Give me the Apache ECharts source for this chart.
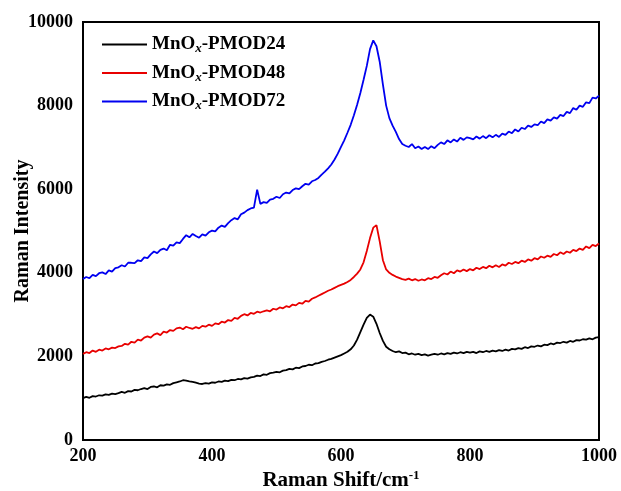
<!DOCTYPE html>
<html><head><meta charset="utf-8">
<script src="https://cdn.jsdelivr.net/npm/echarts@6/dist/echarts.min.js"></script>
<style>html,body{margin:0;padding:0;background:#fff}#c{width:621px;height:491px}</style>
</head><body><div id="c"></div>
<script>
const shift = [200,205,210,215,220,225,230,235,240,245,250,255,260,265,270,275,280,285,290,295,
300,305,310,315,320,325,330,335,340,345,350,355,360,365,370,375,380,385,390,395,
400,405,410,415,420,425,430,435,440,445,450,455,460,465,470,475,480,485,490,495,
500,505,510,515,520,525,530,535,540,545,550,555,560,565,570,575,580,585,590,595,
600,605,610,615,620,625,630,635,640,645,650,655,660,665,670,675,680,685,690,695,
700,705,710,715,720,725,730,735,740,745,750,755,760,765,770,775,780,785,790,795,
800,805,810,815,820,825,830,835,840,845,850,855,860,865,870,875,880,885,890,895,
900,905,910,915,920,925,930,935,940,945,950,955,960,965,970,975,980,985,990,995,1000];

const pmod72 = [3850,3900,3870,3950,3920,3990,4010,3970,4060,4030,
4110,4130,4180,4150,4240,4240,4230,4300,4280,4370,
4350,4440,4510,4470,4550,4580,4540,4670,4650,4730,
4710,4810,4900,4850,4930,4880,4840,4920,4890,4970,
5010,4990,5080,5130,5100,5190,5260,5310,5280,5400,
5440,5500,5540,5560,5990,5650,5690,5670,5750,5770,
5820,5790,5880,5920,5900,5980,6020,6000,6070,6130,
6110,6190,6220,6270,6350,6420,6500,6590,6710,6850,
7010,7170,7350,7540,7770,8020,8300,8620,8950,9350,
9560,9420,9050,8500,8000,7700,7520,7370,7200,7080,
7040,7010,7080,6980,7020,6960,7010,6960,7030,6980,
7060,7120,7080,7170,7120,7190,7140,7230,7180,7240,
7220,7190,7260,7210,7270,7220,7290,7240,7300,7250,
7330,7300,7380,7340,7430,7380,7470,7440,7520,7490,
7550,7530,7620,7580,7670,7640,7720,7690,7780,7750,
7850,7820,7940,7900,8000,7970,8080,8060,8190,8170,8240];

const pmod48 = [2060,2100,2080,2140,2110,2160,2140,2190,2170,2210,
2200,2240,2250,2300,2280,2350,2330,2400,2380,2450,
2480,2450,2520,2550,2510,2590,2570,2630,2610,2670,
2690,2650,2710,2680,2660,2700,2670,2730,2710,2760,
2730,2790,2770,2830,2810,2870,2850,2920,2900,2970,
3010,2980,3040,3020,3070,3050,3080,3100,3080,3140,
3120,3170,3150,3200,3180,3240,3220,3280,3260,3330,
3310,3380,3410,3450,3490,3530,3570,3600,3640,3680,
3710,3740,3780,3830,3900,3980,4080,4250,4520,4830,
5080,5140,4750,4300,4080,4000,3950,3910,3880,3850,
3830,3860,3820,3850,3810,3840,3820,3870,3850,3900,
3880,3940,3990,3960,4030,3990,4060,4030,4080,4040,
4090,4060,4120,4090,4140,4110,4170,4130,4180,4140,
4200,4170,4240,4210,4260,4230,4290,4260,4320,4290,
4350,4320,4390,4360,4410,4380,4450,4420,4490,4450,
4510,4480,4550,4520,4580,4550,4630,4590,4670,4640,4700];

const pmod24 = [1000,1030,1010,1050,1040,1070,1060,1090,1080,1110,
1100,1120,1150,1130,1170,1160,1200,1190,1220,1240,
1220,1270,1280,1260,1310,1300,1330,1320,1360,1380,
1400,1430,1420,1400,1390,1370,1350,1340,1360,1350,
1380,1370,1400,1390,1420,1410,1440,1430,1460,1450,
1480,1470,1500,1510,1540,1530,1570,1560,1600,1610,
1630,1620,1660,1670,1700,1690,1730,1720,1760,1770,
1800,1790,1830,1840,1870,1890,1920,1940,1970,2000,
2030,2070,2110,2170,2260,2400,2580,2760,2920,3000,
2950,2780,2560,2370,2230,2170,2130,2100,2120,2080,
2090,2050,2070,2040,2060,2030,2050,2020,2040,2060,
2040,2070,2050,2080,2060,2090,2070,2100,2080,2110,
2090,2110,2080,2120,2100,2130,2110,2140,2120,2150,
2130,2160,2140,2180,2170,2200,2180,2220,2200,2240,
2230,2260,2240,2280,2270,2310,2290,2330,2320,2350,
2330,2370,2350,2390,2380,2410,2400,2430,2410,2450,2460];

const seriesNames = ['MnOx-PMOD24','MnOx-PMOD48','MnOx-PMOD72'];
const seriesColors = ['#000000','#e80000','#0000f0'];
const seriesData = [pmod24, pmod48, pmod72];

const FONT = '"Liberation Serif","Times New Roman",serif';
const chart = echarts.init(document.getElementById('c'), null, {renderer:'canvas'});
chart.setOption({
  animation:false,
  backgroundColor:'#fff',
  grid:{left:83,right:22,top:22,bottom:51,outerBoundsMode:'none',containLabel:false,show:true,borderColor:'#000',borderWidth:2,backgroundColor:'transparent'},
  legend:{
    orient:'vertical', left:97, top:30, itemGap:8, itemWidth:45, itemHeight:2,
    icon:'rect',
    data:seriesNames,
    formatter:function(n){ return '{a|MnO}{s|x}{a|' + n.slice(4) + '}'; },
    textStyle:{fontFamily:FONT,fontWeight:'bold',fontSize:19,color:'#000',
      rich:{a:{fontFamily:FONT,fontWeight:'bold',fontSize:19,color:'#000'},
            s:{fontFamily:FONT,fontWeight:'bold',fontStyle:'italic',fontSize:13,color:'#000',padding:[9,0,0,0]}}}
  },
  xAxis:{
    type:'value', min:200, max:1000, interval:200,
    axisLine:{show:true,onZero:false,lineStyle:{color:'#000',width:2}},
    axisTick:{show:false}, splitLine:{show:false},
    axisLabel:{margin:7,fontFamily:FONT,fontWeight:'bold',fontSize:18,color:'#000',formatter:function(v){return String(v);}},
    name:'{a|Raman Shift/cm}{s|-1}', nameLocation:'middle', nameGap:29, nameMoveOverlap:false,
    nameTextStyle:{rich:{a:{fontFamily:FONT,fontWeight:'bold',fontSize:21,color:'#000'},
      s:{fontFamily:FONT,fontWeight:'bold',fontSize:13,color:'#000',padding:[0,0,10,0]}}}
  },
  yAxis:{
    type:'value', min:0, max:10000, interval:2000,
    axisLine:{show:true,lineStyle:{color:'#000',width:2}},
    axisTick:{show:false}, splitLine:{show:false},
    axisLabel:{margin:10,fontFamily:FONT,fontWeight:'bold',fontSize:18,color:'#000',formatter:function(v){return String(v);}},
    name:'Raman Intensity', nameLocation:'middle', nameGap:50, nameRotate:90, nameMoveOverlap:false,
    nameTextStyle:{fontFamily:FONT,fontWeight:'bold',fontSize:20,color:'#000'}
  },
  series: seriesNames.map(function(n,i){
    return {name:n, type:'line', showSymbol:false, symbol:'none',
      data: shift.map(function(x,j){return [x, seriesData[i][j]];}),
      lineStyle:{color:seriesColors[i],width:1.8}, itemStyle:{color:seriesColors[i]}, z:3-i};
  })
});
</script></body></html>
